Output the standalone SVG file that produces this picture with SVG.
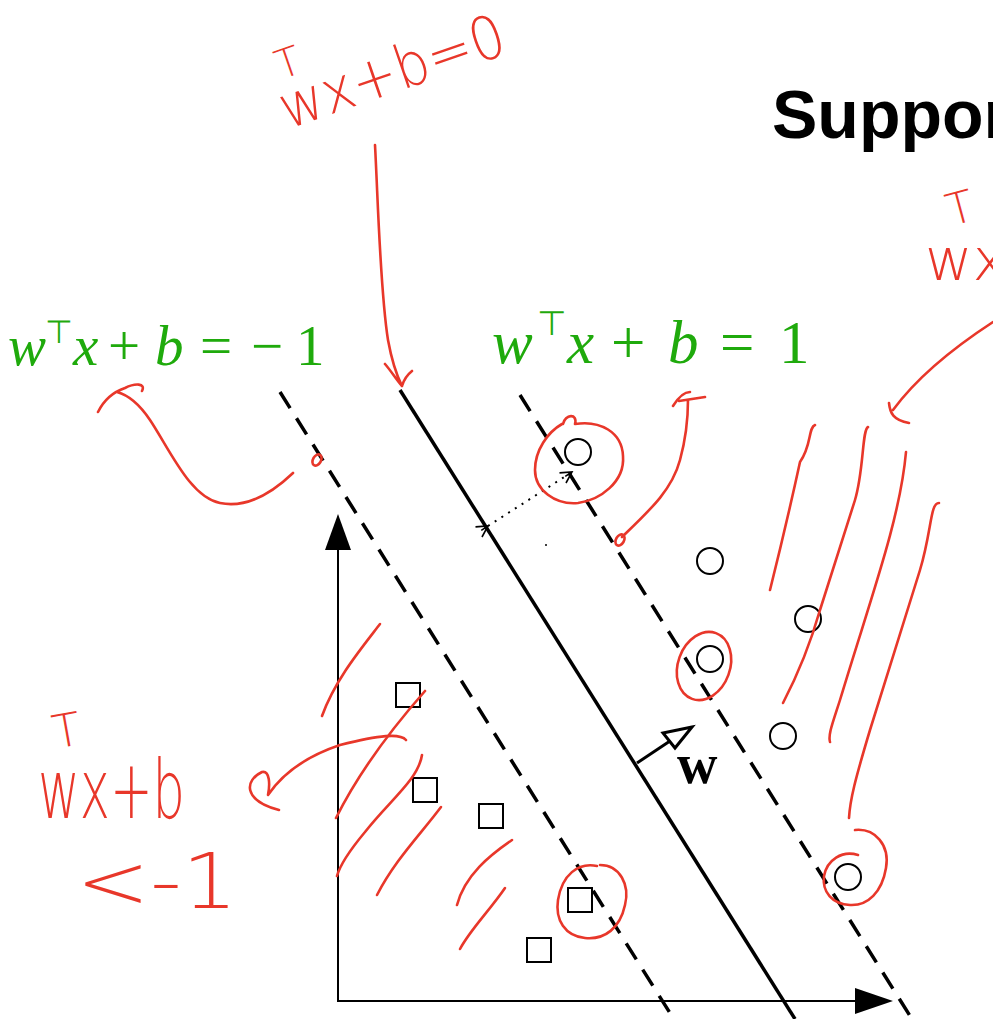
<svg xmlns="http://www.w3.org/2000/svg" width="993" height="1019" viewBox="0 0 993 1019">
<style>
.pt{fill:#fff;stroke:#000;stroke-width:2}
.dash{stroke:#000;stroke-width:3.5;stroke-dasharray:19 12;fill:none}
.ax{stroke:#000;stroke-width:2;fill:none}
.red{stroke:#e8372a;stroke-width:2.6;fill:none;stroke-linecap:round;stroke-linejoin:round}
.hw{fill:#e8372a;font-family:"DejaVu Sans",sans-serif;font-weight:200}
.eq{fill:#1faa0c;font-family:"Liberation Serif",serif}
.it{font-style:italic}
.sup{font-family:"Liberation Sans",sans-serif;fill:#1faa0c}
</style>
<defs>
<marker id="vh" markerWidth="14" markerHeight="14" refX="12" refY="7" orient="auto" markerUnits="userSpaceOnUse">
<path d="M1,1 L12,7 L1,13 M4,7 L12,7" fill="none" stroke="#000" stroke-width="1.6"/>
</marker>
</defs>
<rect width="993" height="1019" fill="#fff"/>
<g id="title"><text x="772" y="138" font-family="Liberation Sans,Arial,sans-serif" font-weight="bold" font-size="68" fill="#000">Support</text></g>
<g id="axes">
<line class="ax" x1="338" y1="1001" x2="338" y2="545"/>
<polygon points="338,514 325,550 351,550" fill="#000"/>
<line class="ax" x1="337" y1="1001" x2="860" y2="1001"/>
<polygon points="893,1001 855,988 855,1014" fill="#000"/>
</g>
<g id="hyperplanes">
<line x1="400" y1="390" x2="795" y2="1019" stroke="#000" stroke-width="3.5"/>
<line class="dash" x1="280" y1="392" x2="675" y2="1021"/>
<line class="dash" x1="520" y1="395" x2="917" y2="1027"/>
</g>
<g id="circles">
<circle class="pt" cx="578" cy="452" r="13"/>
<circle class="pt" cx="710" cy="561" r="13"/>
<circle class="pt" cx="808" cy="619" r="13"/>
<circle class="pt" cx="710" cy="659" r="13"/>
<circle class="pt" cx="783" cy="736" r="13"/>
<circle class="pt" cx="848" cy="877" r="13"/>
</g>
<g id="squares">
<rect class="pt" x="396" y="683" width="24" height="24"/>
<rect class="pt" x="413" y="778" width="24" height="24"/>
<rect class="pt" x="479" y="804" width="24" height="24"/>
<rect class="pt" x="568" y="888" width="24" height="24"/>
<rect class="pt" x="527" y="938" width="24" height="24"/>
</g>
<g id="connectors">
<line x1="488" y1="526" x2="572" y2="472" stroke="#000" stroke-width="2" stroke-dasharray="2 6" marker-end="url(#vh)" marker-start="url(#vh)"/>
<circle cx="546" cy="545" r="1" fill="#000"/>
<line x1="637" y1="763" x2="670" y2="741" stroke="#000" stroke-width="3"/>
<polygon points="692,727 663,733 675,748" fill="#fff" stroke="#000" stroke-width="3" stroke-linejoin="miter"/>
</g>
<g id="w-label"><text x="677" y="783" font-family="Liberation Serif,serif" font-weight="bold" font-size="56" fill="#000">w</text></g>
<g id="eq-minus1">
<text class="eq it" x="8" y="365" font-size="57">w</text>
<text class="sup" x="45" y="343" font-size="32">⊤</text>
<text class="eq it" x="73" y="365" font-size="57">x</text>
<text class="eq" x="108" y="365" font-size="57">+</text>
<text class="eq it" x="155" y="365" font-size="57">b</text>
<text class="eq" x="200" y="365" font-size="57">=</text>
<text class="eq" x="251" y="365" font-size="57">−</text>
<text class="eq" x="296" y="365" font-size="57">1</text>
</g>
<g id="eq-plus1">
<text class="eq it" x="492" y="363" font-size="61">w</text>
<text class="sup" x="537" y="335" font-size="34">⊤</text>
<text class="eq it" x="567" y="363" font-size="61">x</text>
<text class="eq" x="611" y="363" font-size="61">+</text>
<text class="eq it" x="668" y="363" font-size="61">b</text>
<text class="eq" x="720" y="363" font-size="61">=</text>
<text class="eq" x="779" y="363" font-size="61">1</text>
</g>
<g id="hw-top" transform="rotate(-19 288 125)">
<text class="hw" x="296" y="80" font-size="40">T</text>
<text class="hw" x="286" y="129" font-size="60" textLength="235" lengthAdjust="spacingAndGlyphs">wx+b=0</text>
</g>
<g id="hw-right">
<text class="hw" x="946" y="222" font-size="44" transform="rotate(-15 965 205)">T</text>
<text class="hw" x="925" y="280" font-size="58">wx</text>
</g>
<g id="hw-left">
<text class="hw" x="52" y="746" font-size="46" transform="rotate(-10 70 728)">T</text>
<text class="hw" transform="translate(38 818) scale(1 1.25)" x="0" y="0" font-size="66" textLength="147" lengthAdjust="spacingAndGlyphs">wx+b</text>
<text class="hw" x="76" y="908" font-size="76" textLength="162" lengthAdjust="spacingAndGlyphs">&lt;-1</text>
</g>
<g id="red-arrows">
<path class="red" d="M375,145 C378,200 380,290 388,340 C392,362 398,378 402,386 M385,364 C392,372 397,381 402,386 C404,379 407,375 412,371"/>
<path class="red" d="M293,473 C270,495 245,508 220,503 C190,497 170,450 150,420 C140,405 128,395 117,392 M98,412 C104,400 113,392 125,388 C135,383 146,383 142,391"/>
<ellipse class="red" cx="317" cy="460" rx="4" ry="6" transform="rotate(30 317 460)" fill="#e8372a"/>
<path class="red" d="M622,537 C650,510 672,490 680,460 C686,438 688,420 688,400 M673,406 C678,398 684,392 690,392 M679,401 L705,397"/>
<ellipse class="red" cx="620" cy="540" rx="4" ry="6" transform="rotate(30 620 540)" fill="#e8372a"/>
<path class="red" d="M993,322 C950,350 915,380 893,410 M889,403 C890,413 893,420 909,423"/>
<path class="red" d="M406,740 C400,733 380,735 340,745 C310,755 285,770 268,795 C270,785 270,770 262,772 C245,780 242,800 279,810"/>
</g>
<g id="red-loops">
<path class="red" d="M563,424 C565,414 578,413 575,424 C600,420 622,432 623,456 C625,482 600,500 578,503 C555,505 535,490 535,470 C535,450 548,432 562,424"/>
<ellipse class="red" cx="704" cy="666" rx="26" ry="35" transform="rotate(20 704 666)"/>
<path class="red" d="M855,830 C875,828 890,845 886,868 C882,892 868,906 850,905 C832,904 822,892 824,876 C827,860 842,850 858,855"/>
<path class="red" d="M600,865 C620,865 630,885 625,905 C620,928 605,940 585,938 C565,936 555,920 558,900 C562,875 578,862 597,866"/>
</g>
<g id="red-hatch">
<path class="red" d="M815,425 C808,428 812,445 800,462 C795,485 785,530 770,590"/>
<path class="red" d="M868,427 C862,430 864,470 855,500 L820,610 C810,645 795,680 783,703"/>
<path class="red" d="M906,452 C900,520 870,600 840,700 C832,725 828,735 830,742"/>
<path class="red" d="M939,503 C930,503 932,530 920,570 L870,730 C855,780 850,800 849,818"/>
<path class="red" d="M380,624 C360,650 335,680 322,716"/>
<path class="red" d="M425,691 C395,725 360,770 336,818"/>
<path class="red" d="M422,755 C418,780 390,800 365,832 C350,850 340,865 337,876"/>
<path class="red" d="M441,807 C420,835 395,860 377,895"/>
<path class="red" d="M512,840 C490,855 465,875 457,905"/>
<path class="red" d="M505,888 C490,910 470,930 460,949"/>
</g>
</svg>
